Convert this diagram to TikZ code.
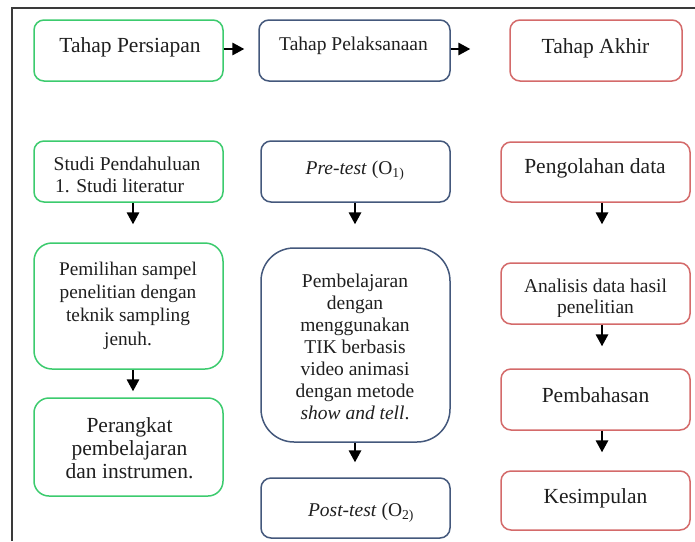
\documentclass[tikz,border=0pt]{standalone}
\usepackage{fontspec}
\setmainfont{Liberation Serif}
\usetikzlibrary{arrows.meta}
\definecolor{grn}{HTML}{3CCB6E}
\definecolor{blu}{HTML}{44587C}
\definecolor{red1}{HTML}{D46A6A}
\definecolor{frm}{HTML}{3A3A3A}
\begin{document}
\begin{tikzpicture}[x=1pt,y=-1pt,
  box/.style={draw, line width=1.5pt, rounded corners=10pt, inner sep=0pt, fill=white},
  gbox/.style={box, draw=grn},
  bbox/.style={box, draw=blu},
  rbox/.style={box, draw=red1},
  txtbase/.style={inner sep=0pt, text=black!88},
  txt/.style={txtbase, anchor=north, align=center},
  txtl/.style={txtbase, anchor=north west, align=flush left},
  fA/.style={font=\fontsize{19.5}{22}\selectfont},
  fB/.style={font=\fontsize{21.5}{23.3}\selectfont},
  fC/.style={font=\fontsize{19.3}{23.3}\selectfont},
  fD/.style={font=\fontsize{19.5}{21}\selectfont},
  arr/.style={-{Triangle[length=12pt,width=12.5pt]}, line width=1.8pt, draw=black}]
\useasboundingbox (0,0) rectangle (695,541);
\fill[white] (0,0) rectangle (695,541);
% frame
\draw[frm, line width=2pt] (11.5,541) -- (11.5,7.5) -- (695,7.5);

% top row
\node[gbox, minimum width=189pt, minimum height=61pt] (P1) at (128.5,50.5) {};
\node[bbox, minimum width=191pt, minimum height=61pt] (P2) at (354.5,50.5) {};
\node[rbox, minimum width=172pt, minimum height=61pt] (P3) at (596,50.5) {};
\node[txt, fB] (tP1) at (130,36.2) {\strut Tahap Persiapan};
\node[txt, fA] (tP2) at (353.5,34.6) {\strut Tahap Pelaksanaan};
\node[txt, fB] (tP3) at (595.5,36.7) {\strut Tahap Akhir};

% left column
\node[gbox, minimum width=189pt, minimum height=61pt] (A1) at (128.5,171.5) {};
\node[gbox, rounded corners=18pt, minimum width=189pt, minimum height=126pt] (A2) at (128.5,306) {};
\node[gbox, rounded corners=15pt, minimum width=189pt, minimum height=98pt] (A3) at (128.5,447) {};
\node[txtl, fA] (tA1) at (53.5,155.3) {\strut Studi Pendahuluan\\\strut\hspace{1.5pt}1. Studi literatur};
\node[txt, fC] (tA2) at (128,258.7) {\strut Pemilihan sampel\\\strut penelitian dengan\\\strut teknik sampling\\\strut jenuh.};
\node[txt, fB] (tA3) at (129.5,415.7) {\strut Perangkat\\\strut pembelajaran\\\strut dan instrumen.};

% middle column
\node[bbox, minimum width=189pt, minimum height=61pt] (B1) at (355.5,171.5) {};
\node[bbox, rounded corners=33pt, minimum width=189pt, minimum height=194pt] (B2) at (355.5,345) {};
\node[bbox, minimum width=189pt, minimum height=60pt] (B3) at (355.5,508) {};
\node[txt, fA] (tB1) at (355,158.6) {\strut\textit{Pre-test} (O\textsubscript{1)}};
\node[txt, fA] (tB2) at (355,272.3) {\strut Pembelajaran\\\strut dengan\\\strut menggunakan\\\strut TIK berbasis\\\strut video animasi\\\strut dengan metode\\\strut\textit{show and tell}.};
\node[txt, fA] (tB3) at (361,500.6) {\strut\textit{Post-test} (O\textsubscript{2)}};

% right column
\node[rbox, minimum width=189pt, minimum height=60pt] (C1) at (595.5,172) {};
\node[rbox, minimum width=189pt, minimum height=61pt] (C2) at (595.5,293.5) {};
\node[rbox, minimum width=189pt, minimum height=61pt] (C3) at (595.5,399.5) {};
\node[rbox, minimum width=189pt, minimum height=59pt] (C4) at (595.5,500.5) {};
\node[txt, fB] (tC1) at (595,156.7) {\strut Pengolahan data};
\begin{scope}
\clip (500,262) rectangle (691,316.5);
\node[txt, fD] (tC2) at (595.5,277.3) {\strut Analisis data hasil\\\strut penelitian};
\end{scope}
\node[txt, fB] (tC3) at (595.5,385.7) {\strut Pembahasan};
\node[txt, fB] (tC4) at (595.5,486.7) {\strut Kesimpulan};

% connectors
\draw[arr, shorten >=14pt] ([yshift=1.5pt]P1.east) -- ([yshift=1.5pt]P2.west);
\draw[arr, shorten >=39pt] ([yshift=1.5pt]P2.east) -- ([yshift=1.5pt]P3.west);
\draw[arr, shorten >=18pt] ([xshift=4.5pt]A1.south) -- ([xshift=4.5pt]A2.north);
\draw[arr, shorten >=6pt] ([xshift=4.5pt]A2.south) -- ([xshift=4.5pt]A3.north);
\draw[arr, shorten >=23pt] ([xshift=-0.5pt]B1.south) -- ([xshift=-0.5pt]B2.north);
\draw[arr, shorten >=15pt] ([xshift=-0.5pt]B2.south) -- ([xshift=-0.5pt]B3.north);
\draw[arr, shorten >=38pt] ([xshift=6.5pt]C1.south) -- ([xshift=6.5pt]C2.north);
\draw[arr, shorten >=22pt] ([xshift=6.5pt]C2.south) -- ([xshift=6.5pt]C3.north);
\draw[arr, shorten >=18pt] ([xshift=6.5pt]C3.south) -- ([xshift=6.5pt]C4.north);
\end{tikzpicture}
\end{document}
